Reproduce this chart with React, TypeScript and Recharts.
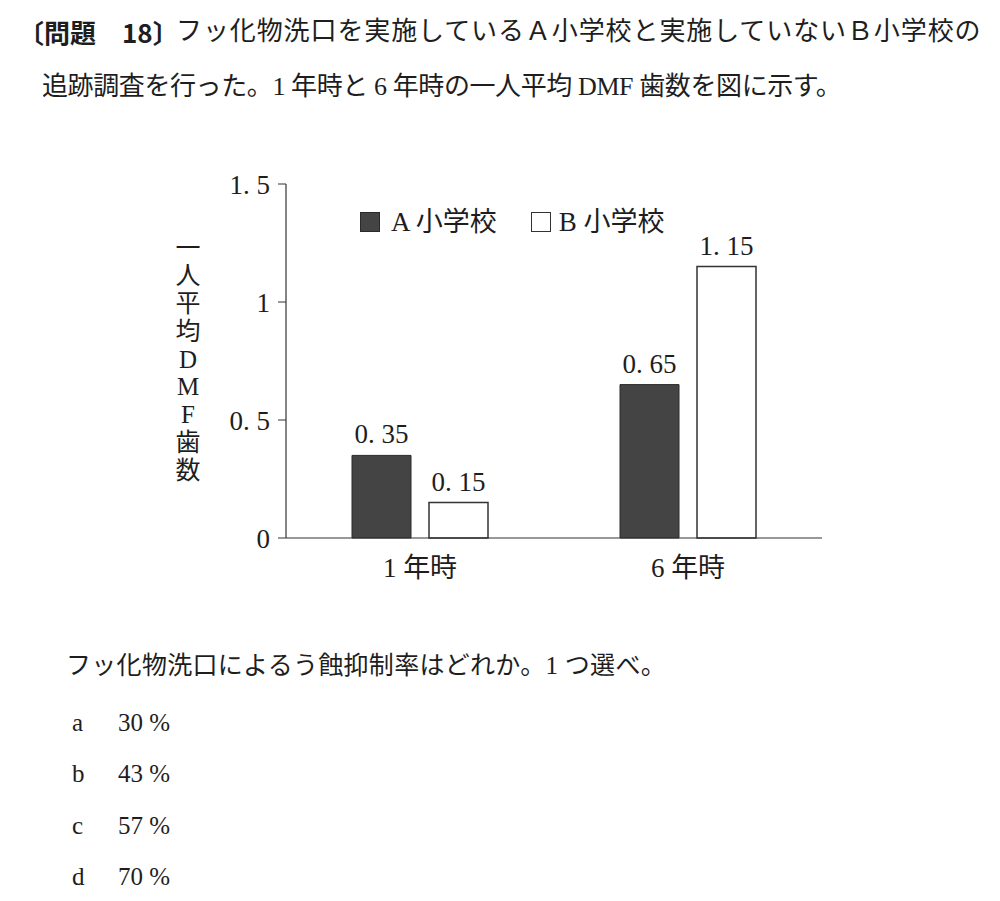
import React from "react";
import { BarChart, Bar, XAxis, YAxis, Legend, LabelList } from "recharts";

const categories = ["1 年時", "6 年時"];
const schoolA = [0.35, 0.65];
const schoolB = [0.15, 1.15];
const yTicks = [0, 0.5, 1, 1.5];
const seriesNames = ["A 小学校", "B 小学校"];
const yAxisTitle = "一人平均DMF歯数";
const titleLine1Prefix = "〔問題";
const titleLine1Num = "18〕";
const titleLine1Rest = "フッ化物洗口を実施しているＡ小学校と実施していないＢ小学校の";
const titleLine2 = "追跡調査を行った。1 年時と 6 年時の一人平均 DMF 歯数を図に示す。";
const question = "フッ化物洗口によるう蝕抑制率はどれか。1 つ選べ。";
const optionLetters = ["a", "b", "c", "d"];
const optionValues = ["30 %", "43 %", "57 %", "70 %"];

const data = categories.map((c, i) => ({ name: c, A: schoolA[i], B: schoolB[i] }));

const FONT = '"Liberation Serif", "Noto Sans CJK JP", serif';
const INK = "#1e1e1e";

const fmtDec = (v: number) => {
  const s = String(v);
  return s.includes(".") ? s.replace(".", ". ") : s;
};
const fmtVal = (v: any) => Number(v).toFixed(2).replace(".", ". ");

const YTitle = (props: any) => {
  const vb = props.viewBox || { x: 0, y: 0, width: 0, height: 0 };
  const cx = vb.x + 48;
  const cy = vb.y + vb.height / 2 - 2;
  const chars = Array.from(yAxisTitle);
  const step = 27.75;
  return (
    <g>
      {chars.map((ch, i) => (
        <text
          key={i}
          x={cx}
          y={cy + (i - (chars.length - 1) / 2) * step}
          textAnchor="middle"
          dominantBaseline="central"
          fontFamily={FONT}
          fontSize={25}
          fill={INK}
        >
          {ch}
        </text>
      ))}
    </g>
  );
};

const LegendContent = () => (
  <div style={{ display: "flex", alignItems: "center", fontFamily: FONT, fontSize: 27, lineHeight: "30px", color: INK, whiteSpace: "nowrap" }}>
    <span style={{ display: "inline-block", width: 20, height: 20, background: "#444", border: "1px solid #2a2a2a", boxSizing: "border-box" }} />
    <span style={{ marginLeft: 11 }}>{seriesNames[0]}</span>
    <span style={{ display: "inline-block", width: 20, height: 20, background: "#fff", border: "1.5px solid #333", boxSizing: "border-box", marginLeft: 34 }} />
    <span style={{ marginLeft: 8 }}>{seriesNames[1]}</span>
  </div>
);

const abs = (left: number, top: number, size: number, extra: React.CSSProperties = {}): React.CSSProperties => ({
  position: "absolute",
  left,
  top: top - size / 2,
  fontSize: size,
  lineHeight: `${size}px`,
  fontFamily: FONT,
  color: INK,
  whiteSpace: "nowrap",
  ...extra,
});

export default function App() {
  return (
    <div style={{ position: "absolute", left: 0, top: 0, width: 1000, height: 901, background: "#fff", overflow: "hidden" }}>
      <div style={abs(18, 32, 26, { fontWeight: 700, fontFamily: '"Noto Sans CJK JP", sans-serif' })}>{titleLine1Prefix}</div>
      <div style={abs(122, 32, 26, { fontWeight: 700, fontFamily: '"Noto Sans CJK JP", sans-serif' })}>{titleLine1Num}</div>
      <div style={abs(176, 32, 26, { letterSpacing: 0.9 })}>{titleLine1Rest}</div>
      <div style={abs(42, 87, 26, { letterSpacing: -0.4 })}>{titleLine2}</div>

      <div style={{ position: "absolute", left: 140, top: 150 }}>
        <BarChart width={700} height={450} data={data} margin={{ top: 34, right: 18, left: 0, bottom: 0 }} barGap={18}>
          <XAxis
            dataKey="name"
            height={62}
            tickLine={false}
            axisLine={{ stroke: "#333", strokeWidth: 1.2 }}
            tickMargin={14}
            tick={{ fontFamily: FONT, fontSize: 27, fill: INK }}
          />
          <YAxis
            width={146}
            domain={[0, 1.5]}
            ticks={yTicks}
            tickFormatter={fmtDec}
            tickSize={8}
            tickMargin={8}
            tickLine={{ stroke: "#333" }}
            axisLine={{ stroke: "#333", strokeWidth: 1.2 }}
            tick={{ fontFamily: FONT, fontSize: 27, fill: INK }}
            label={{ content: YTitle }}
          />
          <Legend
            verticalAlign="middle"
            align="center"
            layout="horizontal"
            content={LegendContent}
            wrapperStyle={{ position: "absolute", top: 57, left: 220, width: "auto", height: "auto" }}
          />
          <Bar dataKey="A" name={seriesNames[0]} barSize={59} fill="#444" stroke="#2a2a2a" strokeWidth={1} isAnimationActive={false}>
            <LabelList dataKey="A" position="top" offset={12} formatter={fmtVal} style={{ fontFamily: FONT, fontSize: 27, fill: INK }} />
          </Bar>
          <Bar dataKey="B" name={seriesNames[1]} barSize={59} fill="#ffffff" stroke="#333" strokeWidth={1.5} isAnimationActive={false}>
            <LabelList dataKey="B" position="top" offset={12} formatter={fmtVal} style={{ fontFamily: FONT, fontSize: 27, fill: INK }} />
          </Bar>
        </BarChart>
      </div>

      <div style={abs(66, 665, 25, { letterSpacing: 0.3 })}>{question}</div>
      {optionLetters.map((l, i) => (
        <React.Fragment key={l}>
          <div style={abs(72, 722 + i * 51.5, 25)}>{l}</div>
          <div style={abs(118, 722 + i * 51.5, 25)}>{optionValues[i]}</div>
        </React.Fragment>
      ))}
    </div>
  );
}
